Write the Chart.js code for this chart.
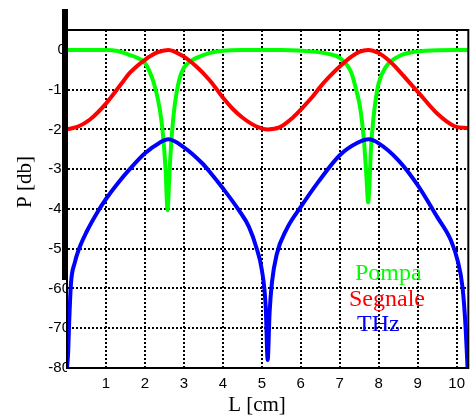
<!DOCTYPE html>
<html>
<head>
<meta charset="utf-8">
<script src="https://cdn.jsdelivr.net/npm/chart.js@4/dist/chart.umd.min.js"></script>
<style>
  html, body { margin: 0; padding: 0; background: #fff; }
  #wrap { width: 472px; height: 416px; }
</style>
</head>
<body>
<div id="wrap"><canvas id="powerChart" width="472" height="416"></canvas></div>
<script>
// L [cm] positions and power (dB) of each wave
const pompaL = [0, 0.5, 1.0, 1.3, 1.61, 1.8, 2.0, 2.2, 2.3, 2.37, 2.45, 2.53, 2.58, 2.63, 2.68, 2.76, 2.88, 3.0, 3.15, 3.32, 3.65, 4.0, 4.5, 5.5, 6.4, 6.71, 7.0, 7.3, 7.42, 7.52, 7.62, 7.68, 7.73, 7.77, 7.8, 7.86, 7.93, 8.0, 8.19, 8.5, 8.75, 9.2, 10.3];
const pompaP = [0, 0, 0, -0.3, -1.3, -2, -3.3, -7.5, -11, -14.3, -20, -30, -40.3, -31, -22.7, -14.3, -7.5, -4.5, -3, -2, -0.8, -0.2, 0, 0, -0.5, -1, -2, -5.8, -10, -14.3, -22.7, -31, -38.3, -32, -25, -17.7, -12, -8.3, -4.2, -1.7, -0.8, -0.2, 0];

const segnaleL = [0, 0.3, 0.59, 1.0, 1.45, 1.61, 2.0, 2.3, 2.6, 3.0, 3.32, 3.65, 3.85, 4.0, 4.25, 4.5, 4.85, 5.15, 5.45, 5.8, 6.05, 6.3, 6.5, 6.71, 7.0, 7.3, 7.5, 7.73, 8.0, 8.24, 8.5, 8.75, 9.0, 9.5, 9.95, 10.3];
const segnaleP = [-20, -19.2, -17.5, -13.5, -7.8, -5.8, -2.5, -0.7, 0, -1.7, -4.2, -7.5, -10, -12, -14.8, -17, -19.2, -20, -19.5, -17, -14.5, -11.8, -9.3, -7, -4.2, -1.7, -0.5, 0, -0.8, -2.5, -5, -7.8, -10.5, -16, -19.2, -19.7];

const thzL = [0, 0.03, 0.05, 0.1, 0.2, 0.31, 0.5, 0.8, 1.0, 1.3, 1.61, 2.0, 2.37, 2.6, 3.0, 3.47, 3.65, 4.0, 4.41, 4.67, 4.87, 5.0, 5.1, 5.15, 5.2, 5.26, 5.38, 5.64, 6.0, 6.45, 7.0, 7.47, 7.75, 8.0, 8.5, 9.0, 9.5, 9.85, 10.02, 10.15, 10.23, 10.28];
const thzP = [-80, -76, -70, -59, -53.5, -50, -45.8, -40.5, -37.5, -33.6, -30, -26, -23.4, -22.5, -24.5, -28.5, -30.5, -34.8, -40.3, -44.5, -50, -55.3, -64.6, -78, -66, -58.5, -51.5, -45, -39.5, -33.2, -26.5, -23.3, -22.5, -23.5, -27.7, -34, -42, -47.8, -52.8, -59.6, -69.7, -80];

// axis ticks
const xTicks = [1, 2, 3, 4, 5, 6, 7, 8, 9, 10];
const yTicks = [0, -10, -20, -30, -40, -50, -60, -70, -80];

const seriesNames = ['Pompa', 'Segnale', 'THz'];
const seriesColors = ['#00ff00', '#ff0000', '#0000ff'];

function toPoints(xs, ys) {
  return xs.map((x, i) => ({ x: x, y: ys[i] }));
}

const serif = "'Liberation Serif', 'Times New Roman', serif";
const sans = "'Liberation Sans', Arial, sans-serif";

// box, thick left bar, axis titles and legend text
const decorations = {
  id: 'decorations',
  afterDatasetsDraw(chart) {
    const { ctx, chartArea: a } = chart;
    ctx.save();
    ctx.strokeStyle = '#000';
    ctx.lineWidth = 2;
    ctx.strokeRect(a.left, a.top, a.right - a.left, a.bottom - a.top);
    ctx.fillStyle = '#000';
    ctx.fillRect(a.left - 5, a.top - 21, 6, 271);

    ctx.font = '21px ' + serif;
    ctx.textAlign = 'center';
    ctx.textBaseline = 'middle';
    ctx.fillText('L [cm]', 257, 405);
    ctx.translate(25, 182);
    ctx.rotate(-Math.PI / 2);
    ctx.fillText('P [db]', 0, 0);
    ctx.restore();

    ctx.save();
    ctx.font = '24px ' + serif;
    ctx.textAlign = 'left';
    ctx.textBaseline = 'alphabetic';
    const lx = [355, 349, 357];
    const ly = [280, 306, 331];
    seriesNames.forEach((name, i) => {
      ctx.fillStyle = seriesColors[i];
      ctx.fillText(name, lx[i], ly[i]);
    });
    ctx.restore();
  }
};

const ctx = document.getElementById('powerChart').getContext('2d');

const chart = new Chart(ctx, {
  type: 'scatter',
  data: {
    datasets: [
      { label: seriesNames[0], data: toPoints(pompaL, pompaP) },
      { label: seriesNames[1], data: toPoints(segnaleL, segnaleP) },
      { label: seriesNames[2], data: toPoints(thzL, thzP) },
    ].map((ds, i) => Object.assign(ds, {
      showLine: true,
      borderColor: seriesColors[i],
      backgroundColor: seriesColors[i],
      borderWidth: 4,
      pointRadius: 0,
      cubicInterpolationMode: 'monotone',
      order: 3 - i,
    })),
  },
  options: {
    responsive: false,
    animation: false,
    layout: { padding: { top: 30, right: 1, left: 0, bottom: 0 } },
    plugins: {
      legend: { display: false },
      tooltip: { enabled: false },
    },
    scales: {
      x: {
        type: 'linear',
        min: 0,
        max: 10.3,
        afterBuildTicks: (scale) => { scale.ticks = xTicks.map((v) => ({ value: v })); },
        afterFit: (scale) => { scale.height = 48; },
        grid: { color: '#000', lineWidth: 2, drawTicks: false },
        border: { display: true, color: '#000', width: 2, dash: [2, 2] },
        ticks: { color: '#000', font: { family: sans, size: 15 }, padding: 7, maxRotation: 0 },
      },
      y: {
        type: 'linear',
        min: -80,
        max: 5,
        afterBuildTicks: (scale) => { scale.ticks = yTicks.map((v) => ({ value: v })); },
        afterFit: (scale) => { scale.width = 67; },
        grid: { color: '#000', lineWidth: 2, drawTicks: false },
        border: { display: true, color: '#000', width: 1, dash: [2, 2] },
        ticks: {
          color: '#000',
          font: { family: sans, size: 15 },
          padding: -3,
          callback: (value) => (value === 0 ? '0 ' : String(value)),
        },
      },
    },
  },
  plugins: [decorations],
});
</script>
</body>
</html>
